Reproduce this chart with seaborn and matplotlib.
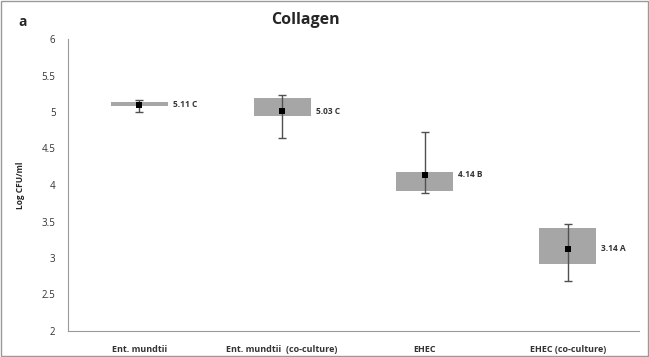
import matplotlib
matplotlib.use("Agg")
import matplotlib.pyplot as plt
import seaborn as sns
import pandas as pd
from matplotlib.patches import Rectangle

categories = ["Ent. mundtii", "Ent. mundtii  (co-culture)", "EHEC", "EHEC (co-culture)"]
means = [5.10, 5.01, 4.14, 3.13]
q1 = [5.085, 4.95, 3.92, 2.92]
q3 = [5.135, 5.19, 4.18, 3.41]
whisker_low = [5.00, 4.64, 3.89, 2.69]
whisker_high = [5.16, 5.23, 4.73, 3.47]
value_labels = ["5.11 C", "5.03 C", "4.14 B", "3.14 A"]
yticks = [2, 2.5, 3, 3.5, 4, 4.5, 5, 5.5, 6]
ytick_labels = ["2", "2.5", "3", "3.5", "4", "4.5", "5", "5.5", "6"]

sns.set_style("white")
plt.rcParams["font.family"] = ["Open Sans", "DejaVu Sans"]

df = pd.DataFrame({"cat": categories, "mean": means})

fig = plt.figure(figsize=(6.49, 3.57), dpi=100)
ax = fig.add_axes([68/649, 26/357, (639-68)/649, (331-39)/357])

# boxes
heights = [h - l for h, l in zip(q3, q1)]
ax.bar(range(len(categories)), heights, bottom=q1, width=0.40,
       color="#A6A6A6", edgecolor="none", zorder=2)

# whiskers (error bars from mean)
low_err = [m - l for m, l in zip(means, whisker_low)]
high_err = [h - m for m, h in zip(means, whisker_high)]
ax.errorbar(range(len(categories)), means, yerr=[low_err, high_err], fmt="none",
            ecolor="#505050", elinewidth=1.0, capsize=3, capthick=1.0, zorder=3)

# means
sns.scatterplot(data=df, x="cat", y="mean", marker="s", color="black", s=20,
                edgecolor="black", linewidth=0, zorder=4, ax=ax)

for i, (lab, m) in enumerate(zip(value_labels, means)):
    ax.text(i + 0.235, m, lab, fontsize=6, fontweight="bold", va="center",
            ha="left", color="#333333", zorder=5)

ax.set_ylim(2, 6)
ax.set_xlim(-0.5, 3.5)
ax.set_yticks(yticks)
ax.set_yticklabels(ytick_labels, fontsize=7, color="#333333")
ax.set_xticks(range(len(categories)))
ax.set_xticklabels(categories, fontsize=6.5, fontweight="bold", color="#333333")
ax.set_xticks([-0.5, 0.5, 1.5, 2.5, 3.5], minor=True)
ax.tick_params(axis="x", which="major", length=0, pad=10)
ax.tick_params(axis="x", which="minor", length=3, color="#999999", direction="out")
ax.tick_params(axis="y", length=3, color="#999999", direction="out", pad=6)
ax.set_xlabel("")
ax.set_ylabel("Log CFU/ml", fontsize=6, fontweight="bold", labelpad=12)

for side in ["top", "right"]:
    ax.spines[side].set_visible(False)
for side in ["left", "bottom"]:
    ax.spines[side].set_color("#999999")
    ax.spines[side].set_linewidth(0.8)

fig.text(271/649, 1 - 20/357, "Collagen", fontsize=11.5, fontweight="bold",
         ha="left", va="center")
fig.text(18/649, 1 - 22/357, "a", fontsize=10, fontweight="bold",
         ha="left", va="center")

fig.patches.append(Rectangle((0.002, 0.003), 0.996, 0.994, transform=fig.transFigure,
                             fill=False, edgecolor="#999999", linewidth=1.0))

fig.savefig("out.png", dpi=100)
